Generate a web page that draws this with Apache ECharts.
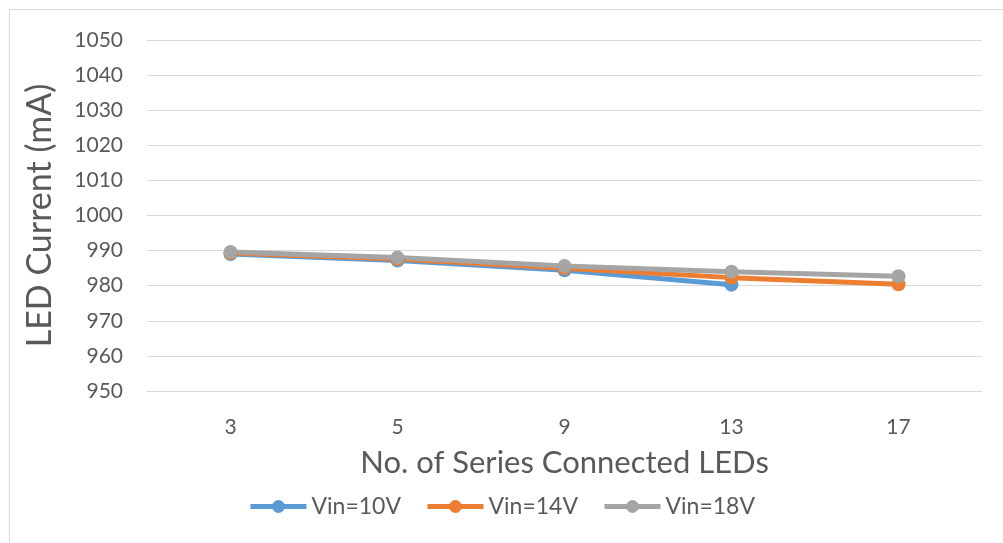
<!DOCTYPE html>
<html>
<head>
<meta charset="utf-8">
<script src="https://cdn.jsdelivr.net/npm/echarts@6/dist/echarts.min.js"></script>
<style>
  html, body { margin: 0; padding: 0; background: #fff; }
  #frame { position: absolute; left: 9px; top: 9px; width: 1000px; height: 540px; border: 1px solid #d9d9d9; box-sizing: border-box; }
  #chart { position: absolute; left: 0; top: 0; width: 1003px; height: 543px; }
</style>
</head>
<body>
<div id="frame"></div>
<div id="chart"></div>
<script>
// LED count per string
var categories = ['3', '5', '9', '13', '17']
var seriesNames = ['Vin=10V', 'Vin=14V', 'Vin=18V']
var vin10 = [989, 987.2, 984.4, 980.3, null]
var vin14 = [989.3, 987.6, 985, 982.3, 980.4]
var vin18 = [989.6, 988, 985.6, 984, 982.7]
var colors = ['#5B9BD5', '#ED7D31', '#A5A5A5']

var myChart = echarts.init(document.getElementById('chart'))
var font = 'Lato, "Open Sans", sans-serif'

function makeSeries(name, data, color) {
  return {
    name: name,
    type: 'line',
    data: data,
    symbol: 'circle',
    symbolSize: 14,
    connectNulls: false,
    lineStyle: { width: 5, color: color },
    itemStyle: { color: color },
    emphasis: { disabled: true }
  }
}

myChart.setOption({
  animation: false,
  textStyle: { fontFamily: font },
  grid: {
    left: 147,
    right: 21,
    top: 40,
    bottom: 152
  },
  legend: {
    bottom: 20,
    left: 'center',
    itemWidth: 56,
    itemHeight: 16,
    itemGap: 24,
    lineStyle: { width: 5 },
    textStyle: { color: '#595959', fontSize: 23, fontFamily: font },
    data: seriesNames
  },
  xAxis: {
    type: 'category',
    data: categories,
    boundaryGap: true,
    name: 'No. of Series Connected LEDs',
    nameLocation: 'middle',
    nameGap: 56,
    nameTextStyle: { color: '#595959', fontSize: 31, fontFamily: font },
    axisLine: { show: true, lineStyle: { color: '#d9d9d9', width: 1 } },
    axisTick: { show: false },
    axisLabel: { color: '#595959', fontSize: 21, margin: 26 }
  },
  yAxis: {
    type: 'value',
    min: 950,
    max: 1050,
    interval: 10,
    name: 'LED Current (mA)',
    nameLocation: 'middle',
    nameGap: 90,
    nameTextStyle: { color: '#595959', fontSize: 34, fontFamily: font },
    axisLine: { show: false },
    axisTick: { show: false },
    axisLabel: { color: '#595959', fontSize: 21, margin: 24, formatter: function (v) { return String(v) } },
    splitLine: { lineStyle: { color: '#d9d9d9', width: 1 } }
  },
  series: [
    makeSeries(seriesNames[0], vin10, colors[0]),
    makeSeries(seriesNames[1], vin14, colors[1]),
    makeSeries(seriesNames[2], vin18, colors[2])
  ]
})
</script>
</body>
</html>
